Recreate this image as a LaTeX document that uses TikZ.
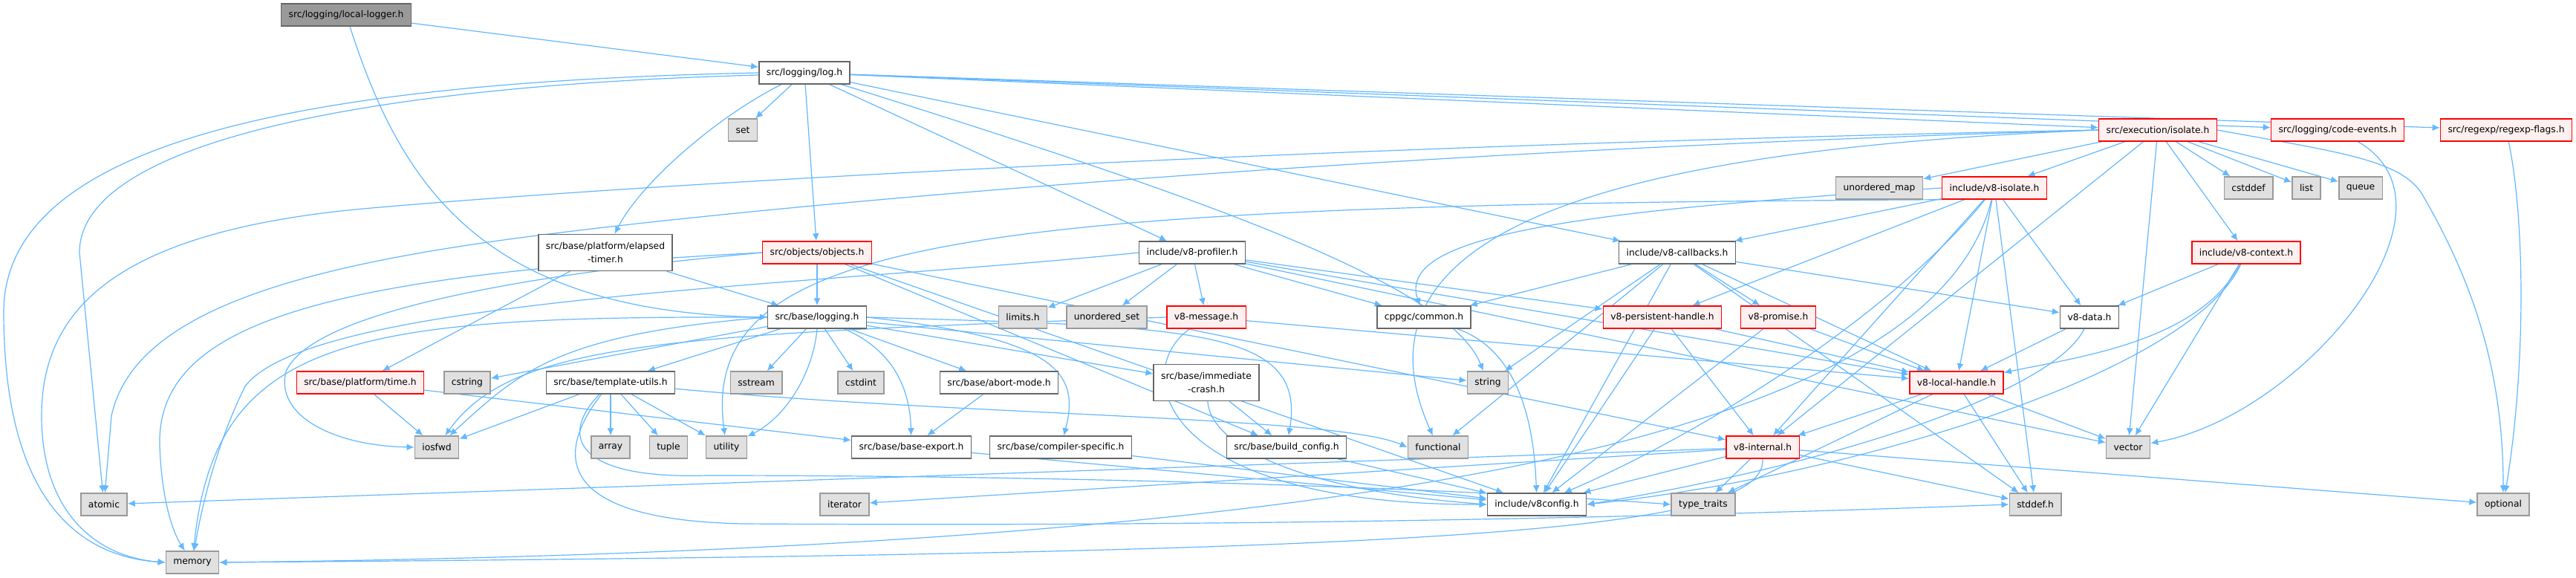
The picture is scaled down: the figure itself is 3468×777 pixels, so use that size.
\documentclass[tikz,border=0pt]{standalone}
\usepackage{fontspec}
\setmainfont{DejaVu Sans}
\usetikzlibrary{arrows.meta,backgrounds}
\definecolor{depblue}{HTML}{63B8FF}
\definecolor{redfill}{HTML}{FFF0F0}
\definecolor{sysfill}{HTML}{E0E0E0}
\definecolor{sysline}{HTML}{999999}
\definecolor{boxline}{HTML}{666666}
\tikzset{hdr/.style={draw=boxline,fill=white,line width=.75pt,font=\fontsize{6.15}{9}\selectfont,minimum height=15pt,inner xsep=5pt,inner ysep=1pt,align=center},
redhdr/.style={hdr,draw=red,fill=redfill},syshdr/.style={hdr,draw=sysline,fill=sysfill},roothdr/.style={hdr,fill=sysline},
dep/.style={draw=depblue,line width=.6pt,>={Latex[length=5,width=4.5]},->}}
\begin{document}
\begin{tikzpicture}[x=.5pt,y=-.5pt]
\useasboundingbox(0,0)rectangle(3468,777);
\node[roothdr](ll)at(466,20){src/logging/local-logger.h};
\node[hdr](logh)at(1083,98){src/logging/log.h};
\node[syshdr](set)at(1000,175){set};
\node[redhdr](iso)at(2905,175){src/execution/isolate.h};
\node[redhdr](cev)at(3147,175){src/logging/code-events.h};
\node[redhdr](rxf)at(3374,175){src/regexp/regexp-flags.h};
\node[syshdr](umap)at(2530,253){unordered\_map};
\node[redhdr](v8iso)at(2685,253){include/v8-isolate.h};
\node[syshdr](cstddef)at(3027,253){cstddef};
\node[syshdr](list)at(3105,253){list};
\node[syshdr](queue)at(3178,253){queue};
\node[hdr,minimum height=24.5pt](elt)at(815,340){src/base/platform/elapsed\\-timer.h};
\node[redhdr](obj)at(1100,340){src/objects/objects.h};
\node[hdr](prof)at(1605,340){include/v8-profiler.h};
\node[hdr](cb)at(2258,340){include/v8-callbacks.h};
\node[redhdr](ctx)at(3024,340){include/v8-context.h};
\node[hdr](blog)at(1100,427){src/base/logging.h};
\node[syshdr](limits)at(1377,427){limits.h};
\node[syshdr](uset)at(1490,427){unordered\_set};
\node[redhdr](msg)at(1624,427){v8-message.h};
\node[hdr](cppgc)at(1917,427){cppgc/common.h};
\node[redhdr](pers)at(2238,427){v8-persistent-handle.h};
\node[redhdr](prom)at(2394,427){v8-promise.h};
\node[hdr](data)at(2813,427){v8-data.h};
\node[redhdr](time)at(485,515){src/base/platform/time.h};
\node[syshdr](cstring)at(629,515){cstring};
\node[hdr](tmpl)at(822,515){src/base/template-utils.h};
\node[syshdr](sstream)at(1018,515){sstream};
\node[syshdr](cstdint)at(1159,515){cstdint};
\node[hdr](abort)at(1345,515){src/base/abort-mode.h};
\node[hdr,minimum height=24.5pt](crash)at(1624,515){src/base/immediate\\-crash.h};
\node[syshdr](string)at(2003,515){string};
\node[redhdr](local)at(2634,515){v8-local-handle.h};
\node[syshdr](iosfwd)at(588,602){iosfwd};
\node[syshdr](array)at(822,602){array};
\node[syshdr](tuple)at(900,602){tuple};
\node[syshdr](utility)at(978,602){utility};
\node[hdr](bexp)at(1227,602){src/base/base-export.h};
\node[hdr](cspec)at(1428,602){src/base/compiler-specific.h};
\node[hdr](bcfg)at(1732,602){src/base/build\_config.h};
\node[syshdr](functional)at(1936,602){functional};
\node[redhdr](internal)at(2373,602){v8-internal.h};
\node[syshdr](vector)at(2865,602){vector};
\node[syshdr](atomic)at(140,679){atomic};
\node[syshdr](iterator)at(1137,679){iterator};
\node[hdr](v8cfg)at(2069,679){include/v8config.h};
\node[syshdr](ttraits)at(2293,679){type\_traits};
\node[syshdr](stddef)at(2740,679){stddef.h};
\node[syshdr](optional)at(3370,679){optional};
\node[syshdr](memory)at(259,757){memory};
\begin{pgfonlayer}{background}
\fill[white](0,0)rectangle(3468,777);
\draw[dep](ll)--(logh);\draw[dep](ll).. controls(540,250)and(650,420)..(blog.west);
\draw[dep](logh)--(set);\draw[dep](logh).. controls(960,160)and(860,250)..(elt);\draw[dep](logh)--(obj);\draw[dep](logh)--(prof);\draw[dep](logh)--(cb);
\draw[dep](logh)--(iso);\draw[dep](logh)--(cev);\draw[dep](logh)--(rxf);\draw[dep](logh).. controls(1600,260)and(1950,380)..(string);
\draw[dep](logh.west).. controls(450,110)and(5,180)..(5,420).. controls(5,690)and(120,750)..(memory.west);
\draw[dep]([yshift=-1.5pt]logh.west).. controls(500,115)and(107,190)..(107,340)--(atomic);
\draw[dep](elt)--(blog);\draw[dep](elt)--(time);
\draw[dep](obj)--(blog);\draw[dep](obj)--(bcfg);\draw[dep](obj)--(internal);\draw[dep](obj)--(v8cfg);
\draw[dep](obj.west).. controls(700,370)and(420,420)..(385,500).. controls(370,560)and(450,600)..(iosfwd.west);
\draw[dep](obj.west).. controls(450,370)and(210,430)..(215,600).. controls(218,680)and(235,720)..(memory);
\draw[dep](prof)--(limits);\draw[dep](prof)--(uset);\draw[dep](prof)--(msg);\draw[dep](prof)--(cppgc);\draw[dep](prof)--(pers);\draw[dep](prof)--(local);\draw[dep](prof)--(vector);
\draw[dep](prof.west).. controls(1100,385)and(420,400)..(330,520).. controls(290,600)and(270,690)..(memory);
\draw[dep](cb)--(cppgc);\draw[dep](cb)--(string);\draw[dep](cb)--(functional);\draw[dep](cb)--(prom);\draw[dep](cb)--(data);\draw[dep](cb)--(local);\draw[dep](cb)--(v8cfg);\draw[dep](cb)--(stddef);
\draw[dep](iso)--(umap);\draw[dep](iso)--(v8iso);\draw[dep](iso)--(cstddef);\draw[dep](iso)--(list);\draw[dep](iso)--(queue);\draw[dep](iso)--(ctx);\draw[dep](iso)--(internal);\draw[dep](iso)--(vector);
\draw[dep](iso.west).. controls(2200,200)and(1800,300)..(functional);
\draw[dep](iso.east).. controls(3150,205)and(3230,215)..(3260,260).. controls(3330,380)and(3370,500)..(optional);
\draw[dep](iso.west).. controls(1800,195)and(900,245)..(500,280).. controls(150,310)and(56,420)..(56,560).. controls(56,690)and(130,750)..(memory.west);
\draw[dep](iso.west).. controls(1800,205)and(1000,280)..(700,320).. controls(400,360)and(180,420)..(150,560)--(atomic);
\draw[dep](cev).. controls(3330,280)and(3100,560)..(vector);\draw[dep](rxf).. controls(3400,300)and(3400,500)..(optional);
\draw[dep](v8iso)--(cb);\draw[dep](v8iso)--(data);\draw[dep](v8iso)--(local);\draw[dep](v8iso)--(pers);\draw[dep](v8iso)--(internal);\draw[dep](v8iso)--(stddef);
\draw[dep](v8iso.west).. controls(2100,285)and(1880,320)..(cppgc);
\draw[dep](v8iso.south west).. controls(1300,275)and(940,320)..(utility);
\draw[dep](v8iso).. controls(2550,420)and(2300,580)..(v8cfg);
\draw[dep](v8iso).. controls(2600,600)and(1800,740)..(memory.east);
\draw[dep](ctx)--(data);\draw[dep](ctx)--(vector);\draw[dep](ctx).. controls(2960,460)and(2800,480)..(local);\draw[dep](ctx).. controls(2950,500)and(2500,640)..(v8cfg.east);
\draw[dep](blog)--(cstring);\draw[dep](blog)--(sstream);\draw[dep](blog)--(cstdint);\draw[dep](blog)--(tmpl);\draw[dep](blog)--(abort);\draw[dep](blog)--(crash);\draw[dep](blog)--(string);
\draw[dep](blog.west).. controls(750,450)and(700,500)..(iosfwd);\draw[dep](blog.south).. controls(1095,500)and(1060,560)..(utility);
\draw[dep](blog).. controls(1200,470)and(1225,520)..(bexp);\draw[dep](blog.east).. controls(1420,455)and(1455,500)..(cspec);
\draw[dep](blog.east).. controls(1600,440)and(1760,440)..(bcfg);\draw[dep](blog.west).. controls(480,425)and(290,450)..(memory);
\draw[dep](msg)--(local);\draw[dep](msg.west).. controls(900,450)and(690,460)..(iosfwd);\draw[dep](msg).. controls(1520,500)and(1560,680)..(v8cfg.west);
\draw[dep](cppgc).. controls(2040,470)and(2065,560)..(v8cfg);
\draw[dep](pers)--(internal);\draw[dep](pers)--(local);\draw[dep](pers)--(v8cfg);
\draw[dep](prom)--(local);\draw[dep](prom)--(v8cfg);
\draw[dep](data)--(local);\draw[dep](data).. controls(2770,520)and(2500,620)..(v8cfg.east);
\draw[dep](time)--(iosfwd);\draw[dep](time)--(bexp);
\draw[dep](tmpl)--(iosfwd);\draw[dep](tmpl)--(array);\draw[dep](tmpl)--(tuple);\draw[dep](tmpl)--(utility);
\draw[dep](tmpl).. controls(1300,560)and(1800,560)..(functional.west);
\draw[dep](tmpl).. controls(750,590)and(780,645)..(950,640).. controls(1500,640)and(2000,660)..(ttraits.west);
\draw[dep](tmpl).. controls(740,620)and(760,700)..(1000,705).. controls(1800,710)and(2400,690)..(stddef.west);
\draw[dep](abort)--(bexp);\draw[dep](crash)--(bcfg);\draw[dep](crash).. controls(1630,600)and(1750,660)..(v8cfg.west);
\draw[dep](local)--(internal);\draw[dep](local)--(stddef);\draw[dep](local)--(vector);\draw[dep](local)--(ttraits);
\draw[dep](bexp)--(v8cfg);\draw[dep](cspec)--(v8cfg);\draw[dep](bcfg)--(v8cfg);
\draw[dep](internal)--(ttraits);\draw[dep](internal)--(v8cfg);\draw[dep](internal)--(stddef);\draw[dep](internal)--(optional);\draw[dep](internal)--(iterator);\draw[dep](internal)--(atomic);
\draw[dep](internal.south).. controls(2380,720)and(1900,745)..(memory.east);
\end{pgfonlayer}
\end{tikzpicture}
\end{document}
